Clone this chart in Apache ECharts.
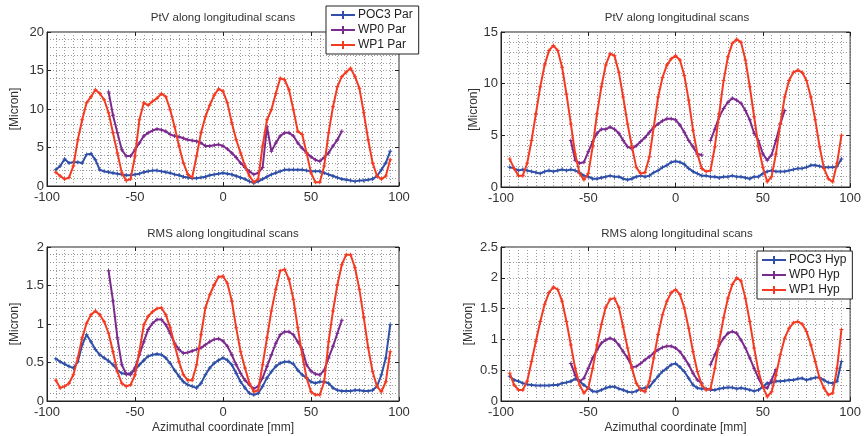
<!DOCTYPE html>
<html><head><meta charset="utf-8">
<script src="https://cdn.jsdelivr.net/npm/echarts/dist/echarts.min.js"></script>
<style>html,body{margin:0;padding:0;background:#fff}#c{width:864px;height:436px}</style>
</head><body><div id="c"></div>
<script>
// Azimuthal coordinate [mm]
const xs = [-95,-92.5,-90,-87.5,-85,-82.5,-80,-77.5,-75,-72.5,-70,-67.5,-65,-62.5,-60,-57.5,-55,-52.5,-50,-47.5,-45,-42.5,-40,-37.5,-35,-32.5,-30,-27.5,-25,-22.5,-20,-17.5,-15,-12.5,-10,-7.5,-5,-2.5,0,2.5,5,7.5,10,12.5,15,17.5,20,22.5,25,27.5,30,32.5,35,37.5,40,42.5,45,47.5,50,52.5,55,57.5,60,62.5,65,67.5,70,72.5,75,77.5,80,82.5,85,87.5,90,92.5,95];

// Panel 1: PtV, Par
const ptvPOC3Par = [2.1,2.6,3.5,3.0,3.1,3.1,3.0,4.1,4.2,3.4, 2.1,1.9,1.8,1.7,1.6,1.5,1.4,1.4,1.5,1.6, 1.8,1.9,2.0,2.0,1.9,1.8,1.7,1.5,1.4,1.2, 1.1,1.0,1.0,1.1,1.2,1.4,1.5,1.6,1.7,1.6, 1.5,1.3,1.1,0.9,0.6,0.4,0.6,0.9,1.2,1.5, 1.7,1.9,2.1,2.1,2.1,2.1,2.1,2.0,1.9,1.9, 1.9,1.7,1.5,1.3,1.1,0.9,0.8,0.7,0.6,0.7, 0.7,0.8,0.9,1.3,2.1,3.0,4.5];
const ptvWP0Par = [null,null,null,null,null,null,null,null,null,null,null,null, 12.2,9.2,6.9,4.7,3.9,3.9,4.7,5.6,6.5,6.9, 7.2,7.4,7.3,7.1,6.7,6.5,6.4,6.2,6.0,5.9, 5.8,5.6,5.2,5.2,5.3,5.4,5.2,4.8,4.3,3.7, 3.0,2.4,1.9,1.5,1.7,2.4,7.7,4.5,5.6,6.5, 6.9,6.9,6.5,5.6,4.9,4.3,3.8,3.4,3.2,3.7, 4.3,5.2,6.0,7.1, null,null,null,null,null,null,null,null,null,null,null];
const ptvWP1Par = [1.8,1.3,0.9,1.1,2.6,6.0,8.6,10.8,11.6,12.5, 12.0,11.2,9.5,6.9,4.3,1.7,0.7,0.9,3.9,8.6, 10.8,10.5,11.0,11.4,12.0,11.6,9.9,7.7,5.2,3.0, 1.5,1.1,3.9,6.9,9.0,10.5,11.8,12.6,12.3,10.8, 8.2,6.0,4.3,2.6,1.3,0.5,0.9,5.2,8.6,9.9, 12.0,14.0,13.8,12.5,9.9,7.1,6.7,4.3,1.7,0.5, 0.5,2.6,6.9,10.3,12.9,14.2,14.8,15.3,14.2,12.7, 9.5,6.0,3.0,1.3,0.9,1.3,3.4];

// Panel 2: PtV, Hyp
const ptvPOC3Hyp = [1.9,1.8,1.6,1.7,1.6,1.5,1.4,1.3,1.5,1.6, 1.5,1.6,1.7,1.6,1.7,1.6,1.4,1.1,1.0,0.8, 0.8,0.9,1.0,1.1,1.0,1.0,0.8,0.7,0.8,1.0, 1.1,1.0,1.1,1.4,1.6,1.9,2.1,2.4,2.5,2.4, 2.2,1.8,1.5,1.3,1.1,1.1,1.0,1.0,0.9,1.0, 1.0,1.1,1.0,1.0,0.9,0.8,1.0,1.0,1.3,1.5, 1.6,1.5,1.5,1.5,1.6,1.7,1.8,1.8,1.9,2.1, 2.1,2.0,1.9,1.9,1.9,2.0,2.7];
const ptvWP0Hyp = [null,null,null,null,null,null,null,null,null,null,null,null,null,null, 4.5,2.6,2.3,2.4,3.4,4.4,5.2,5.6,5.6,5.8, 5.6,5.2,4.5,3.9,3.7,4.0,4.4,4.8,5.3,5.8, 6.1,6.4,6.6,6.6,6.5,6.0,5.3,4.5,3.9,3.2, 3.1,null,4.5,5.6,6.8,7.6,8.2,8.6,8.4,8.1, 7.4,6.5,5.2,4.5,3.2,2.6,3.1,4.5,6.1,7.4, null,null,null,null,null,null,null,null,null,null,null,null,null];
const ptvWP1Hyp = [2.7,1.8,1.1,1.1,2.3,4.5,7.1,9.7,11.8,13.2, 13.7,13.2,11.6,9.0,6.1,3.2,1.3,0.7,1.3,3.9, 7.1,9.7,11.8,12.9,12.7,11.1,8.7,6.1,3.9,1.9, 1.3,1.4,2.9,5.8,8.7,10.6,11.8,12.4,12.7,12.3, 10.8,8.4,5.5,3.2,1.8,1.5,1.6,3.9,7.1,10.3, 12.6,13.9,14.3,14.0,12.3,9.7,6.8,3.9,1.9,0.5, 1.0,3.2,6.1,8.7,10.3,11.1,11.3,11.1,10.3,8.7, 6.5,3.9,1.8,0.8,0.5,2.3,5.0];

// Panel 3: RMS, Par
const rmsPOC3Par = [0.55,0.51,0.48,0.45,0.43,0.51,0.73,0.86,0.77,0.67, 0.60,0.56,0.52,0.47,0.40,0.36,0.35,0.36,0.40,0.47, 0.53,0.58,0.60,0.61,0.60,0.56,0.49,0.40,0.32,0.25, 0.21,0.19,0.17,0.23,0.34,0.43,0.49,0.53,0.56,0.53, 0.47,0.36,0.25,0.17,0.10,0.08,0.10,0.19,0.30,0.38, 0.45,0.49,0.51,0.51,0.48,0.40,0.34,0.30,0.25,0.23, 0.25,0.25,0.23,0.17,0.14,0.13,0.13,0.13,0.14,0.14, 0.13,0.13,0.14,0.19,0.34,0.56,0.99];
const rmsWP0Par = [null,null,null,null,null,null,null,null,null,null,null,null, 1.69,1.30,0.82,0.47,0.35,0.34,0.43,0.60,0.77,0.93, 1.01,1.06,1.06,0.99,0.88,0.75,0.67,0.62,0.63,0.65, 0.67,0.69,0.73,0.77,0.80,0.81,0.78,0.71,0.60,0.47, 0.36,0.27,0.21,0.16,0.19,0.30,0.45,0.60,0.75,0.86, 0.90,0.90,0.86,0.77,0.67,0.47,0.39,0.35,0.34,0.40, 0.56,0.71,0.88,1.05, null,null,null,null,null,null,null,null,null,null,null];
const rmsWP1Par = [0.27,0.17,0.19,0.23,0.34,0.56,0.82,1.01,1.12,1.17, 1.12,1.03,0.88,0.64,0.38,0.23,0.19,0.21,0.34,0.64, 0.99,1.10,1.16,1.20,1.21,1.12,0.95,0.73,0.51,0.34, 0.27,0.27,0.47,0.86,1.21,1.38,1.51,1.61,1.62,1.53, 1.30,0.95,0.64,0.43,0.23,0.12,0.14,0.47,0.82,1.17, 1.45,1.69,1.71,1.58,1.32,0.95,0.60,0.30,0.12,0.08, 0.08,0.25,0.77,1.17,1.51,1.77,1.90,1.90,1.73,1.45, 1.08,0.69,0.38,0.19,0.12,0.25,0.64];

// Panel 4: RMS, Hyp
const rmsPOC3Hyp = [0.40,0.34,0.32,0.29,0.27,0.26,0.25,0.25,0.25,0.25, 0.26,0.26,0.29,0.30,0.32,0.36,0.32,0.26,0.21,0.16, 0.15,0.18,0.21,0.23,0.23,0.20,0.18,0.15,0.14,0.16, 0.20,0.21,0.23,0.32,0.40,0.48,0.53,0.59,0.61,0.55, 0.48,0.37,0.26,0.21,0.20,0.20,0.18,0.18,0.20,0.21, 0.22,0.22,0.20,0.21,0.20,0.18,0.16,0.18,0.23,0.29, 0.30,0.32,0.32,0.33,0.34,0.34,0.36,0.37,0.34,0.36, 0.38,0.38,0.34,0.30,0.29,0.32,0.64];
const rmsWP0Hyp = [null,null,null,null,null,null,null,null,null,null,null,null,null,null, 0.61,0.42,0.32,0.37,0.53,0.70,0.83,0.94,0.99,1.02, 0.99,0.91,0.80,0.70,0.55,0.56,0.61,0.67,0.72,0.78, 0.83,0.87,0.89,0.89,0.86,0.80,0.70,0.59,0.45,0.34, 0.29,null,0.59,0.75,0.91,1.02,1.10,1.13,1.10,0.99, 0.86,0.70,0.53,0.37,0.23,0.21,0.34,0.51, null,null,null,null,null,null,null,null,null,null,null,null,null,null,null];
const rmsWP1Hyp = [0.45,0.26,0.18,0.18,0.32,0.64,0.97,1.29,1.57,1.76, 1.85,1.81,1.62,1.29,0.91,0.53,0.26,0.13,0.21,0.53, 0.91,1.24,1.52,1.65,1.67,1.52,1.20,0.86,0.53,0.29, 0.18,0.15,0.32,0.70,1.08,1.40,1.62,1.76,1.81,1.73, 1.51,1.18,0.80,0.48,0.26,0.18,0.20,0.53,0.97,1.35, 1.67,1.89,2.00,1.95,1.67,1.29,0.86,0.48,0.23,0.07, 0.15,0.42,0.75,1.02,1.18,1.27,1.29,1.25,1.13,0.91, 0.64,0.37,0.21,0.10,0.13,0.53,1.16];

const titles = ['PtV along longitudinal scans','PtV along longitudinal scans','RMS along longitudinal scans','RMS along longitudinal scans'];
const yMax = [20, 15, 2, 2.5];
const yStep = [5, 5, 0.5, 0.5];
const yMinorSplit = [5, 5, 5, 2];
const xMin = -100, xMax = 100, xStep = 50;
const seriesNames = [['POC3 Par','WP0 Par','WP1 Par'],['POC3 Hyp','WP0 Hyp','WP1 Hyp'],['POC3 Par','WP0 Par','WP1 Par'],['POC3 Hyp','WP0 Hyp','WP1 Hyp']];
const panelData = [[ptvPOC3Par,ptvWP0Par,ptvWP1Par],[ptvPOC3Hyp,ptvWP0Hyp,ptvWP1Hyp],[rmsPOC3Par,rmsWP0Par,rmsWP1Par],[rmsPOC3Hyp,rmsWP0Hyp,rmsWP1Hyp]];

const colors = ['#2f4fa8','#7b2a8e','#f53a22'];
const FONT = 'Liberation Sans';
const TXT = '#333';
const gridLine = {lineStyle:{color:'#999', width:1, type:[1,2]}};

const grids = [
  {left:47, top:32, width:352, height:154},
  {left:501, top:32, width:353, height:155},
  {left:47, top:247, width:352, height:154},
  {left:501, top:247, width:353, height:154}
];
const titlePos = [[223,18],[677,18],[223,234],[677,234]];
const yNameGap = [26, 21, 26, 26];

const xAxes = [], yAxes = [], series = [];
for (let p = 0; p < 4; p++) {
  grids[p].show = true; grids[p].borderColor = '#222'; grids[p].borderWidth = 1; grids[p].backgroundColor = '#fff';
  const bottomRow = p >= 2;
  xAxes.push({
    type:'value', gridIndex:p, min:xMin, max:xMax, interval:xStep, position:'bottom',
    name: bottomRow ? 'Azimuthal coordinate [mm]' : '',
    nameLocation:'middle', nameGap:21,
    nameTextStyle:{fontFamily:FONT, fontSize:12, color:TXT},
    axisLine:{show:true, onZero:false, lineStyle:{color:'#222'}},
    axisTick:{show:true, inside:true, length:4, lineStyle:{color:'#222'}},
    axisLabel:{fontFamily:FONT, fontSize:13, color:TXT, margin:5},
    splitLine:{show:true, ...gridLine},
    minorTick:{show:false, splitNumber:10},
    minorSplitLine:{show:true, ...gridLine}
  });
  yAxes.push({
    type:'value', gridIndex:p, min:0, max:yMax[p], interval:yStep[p], position:'left',
    name:'[Micron]', nameLocation:'middle', nameGap:yNameGap[p], nameRotate:90,
    nameTextStyle:{fontFamily:FONT, fontSize:12, color:TXT},
    axisLine:{show:true, onZero:false, lineStyle:{color:'#222'}},
    axisTick:{show:true, inside:true, length:4, lineStyle:{color:'#222'}},
    axisLabel:{fontFamily:FONT, fontSize:13, color:TXT, margin:3},
    splitLine:{show:true, ...gridLine},
    minorTick:{show:false, splitNumber:yMinorSplit[p]},
    minorSplitLine:{show:true, ...gridLine}
  });
  for (let s = 0; s < 3; s++) {
    const arr = panelData[p][s];
    series.push({
      type:'line', name:seriesNames[p][s], xAxisIndex:p, yAxisIndex:p,
      data: xs.map((x,i) => [x, arr[i]]),
      color: colors[s],
      lineStyle:{width: 2, color: colors[s]},
      symbol:'path://M-1,-4H1V-1H4V1H1V4H-1V1H-4V-1H-1Z', symbolSize:4, showSymbol:true,
      itemStyle:{color: colors[s]},
      connectNulls:false, animation:false, z: 3 + s
    });
  }
}
// box ticks on top and right
for (let p = 0; p < 4; p++) {
  xAxes.push({type:'value', gridIndex:p, position:'top', min:xMin, max:xMax, interval:xStep,
    axisLine:{show:false, onZero:false}, axisLabel:{show:false}, splitLine:{show:false},
    axisTick:{show:true, inside:true, length:4, lineStyle:{color:'#222'}}});
  yAxes.push({type:'value', gridIndex:p, position:'right', min:0, max:yMax[p], interval:yStep[p],
    axisLine:{show:false, onZero:false}, axisLabel:{show:false}, splitLine:{show:false},
    axisTick:{show:true, inside:true, length:4, lineStyle:{color:'#222'}}});
}

const legendCommon = {
  orient:'vertical', backgroundColor:'#fff', borderColor:'#222', borderWidth:1, borderRadius:0,
  padding:[3,6,3,4], itemGap:3, itemWidth:24, itemHeight:10,
  textStyle:{fontFamily:FONT, fontSize:12, color:'#222', padding:[0,0,0,-2]}, z:10
};
const option = {
  animation:false,
  backgroundColor:'#fff',
  grid: grids,
  xAxis: xAxes,
  yAxis: yAxes,
  series: series,
  legend: [
    Object.assign({left:326, top:6, data:seriesNames[0]}, legendCommon),
    Object.assign({left:757, top:251, data:seriesNames[1]}, legendCommon)
  ],
  graphic: titles.map((t,i) => ({
    type:'text', x:titlePos[i][0], y:titlePos[i][1], z:10,
    style:{text:t, fill:TXT, fontFamily:FONT, fontSize:11.5, align:'center', verticalAlign:'middle'}
  }))
};
const chart = echarts.init(document.getElementById('c'), null, {renderer:'canvas'});
chart.setOption(option);
</script></body></html>
